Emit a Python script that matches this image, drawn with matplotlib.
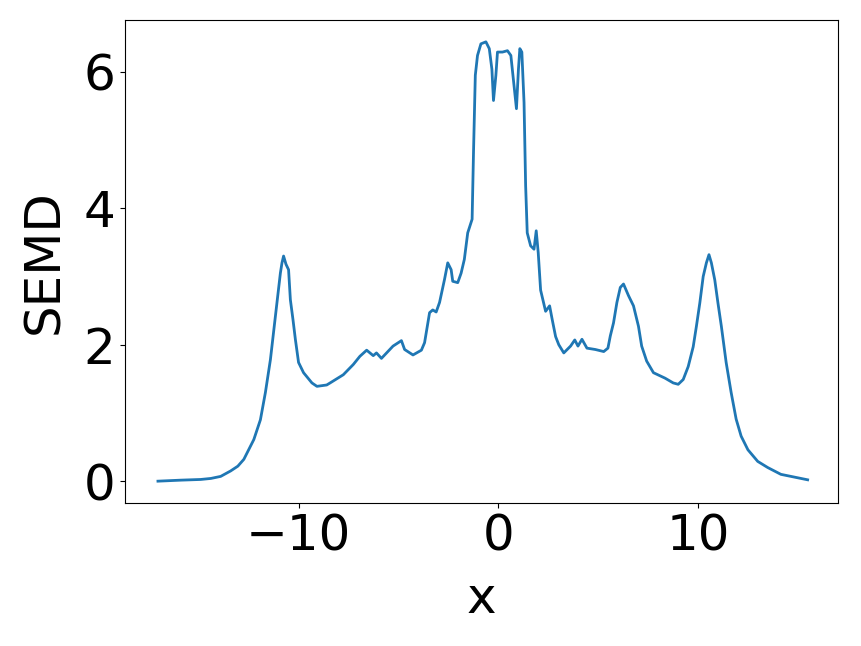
import numpy as np
import matplotlib
matplotlib.use("Agg")
import matplotlib.pyplot as plt

# values
x = [-17.05, -15.9, -14.91, -14.4, -13.91, -13.41, -13.05, -12.75, -12.25, -11.92,
     -11.67, -11.42, -11.25, -11.09, -10.92, -10.84, -10.76, -10.64, -10.51, -10.42,
     -10.29, -10.17, -10.01, -9.76, -9.34, -9.09, -8.60,
     -8.43, -7.77, -7.27, -6.94, -6.60, -6.27, -6.11, -5.86, -5.28, -4.86,
     -4.70, -4.28, -3.86, -3.70, -3.45, -3.29, -3.12, -2.95, -2.70, -2.54,
     -2.37, -2.29, -2.04, -1.87, -1.71, -1.54, -1.32, -1.25, -1.16, -1.05,
     -0.88, -0.63, -0.46, -0.33, -0.25, -0.13, -0.05, 0.20, 0.45, 0.62,
     0.78, 0.90, 1.00, 1.07, 1.17, 1.28, 1.36, 1.44, 1.61, 1.78,
     1.89, 1.99, 2.11, 2.36, 2.56, 2.69, 2.86, 3.02,
     3.27, 3.61, 3.82, 3.98, 4.18, 4.43, 4.85, 5.27, 5.48, 5.60,
     5.76, 5.93, 6.10, 6.26, 6.51, 6.76, 7.01, 7.17, 7.42, 7.76,
     8.34, 8.75, 9.00, 9.25, 9.50, 9.75, 9.91, 10.08, 10.25, 10.41,
     10.54, 10.66, 10.83, 10.99, 11.16, 11.40, 11.65, 11.90, 12.15, 12.49,
     12.98, 13.48, 14.14, 14.98, 15.48]
semd = [0.00, 0.015, 0.025, 0.04, 0.07, 0.15, 0.22, 0.32, 0.61, 0.90,
        1.30, 1.78, 2.22, 2.62, 3.05, 3.20, 3.30, 3.18, 3.10, 2.66,
        2.37, 2.08, 1.74, 1.59, 1.44, 1.39, 1.41,
        1.44, 1.56, 1.71, 1.83, 1.92, 1.84, 1.88, 1.80, 1.98, 2.06,
        1.93, 1.85, 1.92, 2.03, 2.47, 2.51, 2.48, 2.62, 2.96, 3.20,
        3.10, 2.93, 2.91, 3.05, 3.25, 3.64, 3.84, 4.82, 5.95, 6.24,
        6.41, 6.44, 6.34, 6.04, 5.58, 5.95, 6.29, 6.29, 6.31, 6.24,
        5.80, 5.46, 6.04, 6.34, 6.29, 5.55, 4.33, 3.64, 3.45, 3.40,
        3.67, 3.35, 2.80, 2.49, 2.57, 2.37, 2.12, 2.00,
        1.88, 1.98, 2.07, 1.98, 2.08, 1.95, 1.93, 1.90, 1.95, 2.13,
        2.32, 2.62, 2.84, 2.89, 2.72, 2.57, 2.27, 1.98, 1.76, 1.59,
        1.51, 1.44, 1.42, 1.49, 1.68, 1.97, 2.27, 2.61, 3.00, 3.20,
        3.32, 3.20, 2.95, 2.61, 2.27, 1.74, 1.30, 0.91, 0.66, 0.46,
        0.29, 0.20, 0.10, 0.05, 0.02]

fig = plt.figure(figsize=(8.61, 6.46), dpi=100)
ax = fig.add_axes([125/861, 1 - 503/646, (838 - 125)/861, (503 - 20)/646])
ax.plot(x, semd, color='#1f77b4', linewidth=2)
ax.set_xlabel('x', fontsize=36, labelpad=10)
ax.set_ylabel('SEMD', fontsize=36, labelpad=11)
ax.tick_params(labelsize=36)
ax.set_xticks([-10, 0, 10])
ax.set_yticks([0, 2, 4, 6])
ax.set_xlim(-18.7, 17.0)
ax.set_ylim(-0.32, 6.76)
fig.savefig('out.png', dpi=100)
